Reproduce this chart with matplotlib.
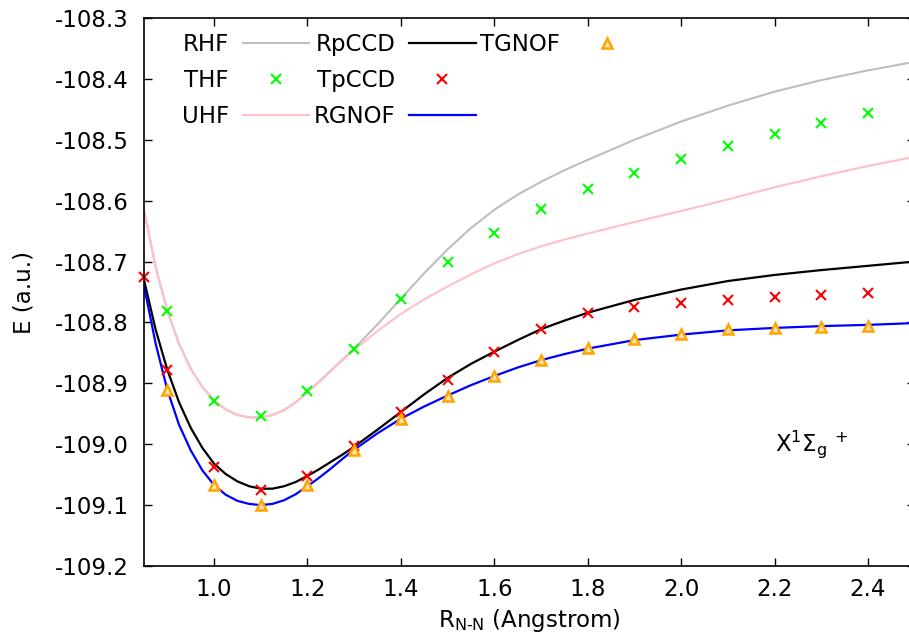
"""N2 dissociation curve, X1Sigma_g+ state."""
import matplotlib
matplotlib.use("Agg")
import matplotlib.pyplot as plt
from matplotlib.lines import Line2D
from matplotlib.ticker import FormatStrFormatter

plt.rcParams['font.family'] = ['DejaVu Sans']
plt.rcParams['mathtext.fontset'] = 'dejavusans'
plt.rcParams['axes.unicode_minus'] = False

# bond length grid for the continuous curves
r_curve = [0.85, 0.875, 0.9, 0.925, 0.95, 0.975, 1.0, 1.025, 1.05, 1.075,
           1.1, 1.125, 1.15, 1.175, 1.2, 1.225, 1.25, 1.275, 1.3,
           1.35, 1.4, 1.45, 1.5, 1.55, 1.6, 1.65, 1.7, 1.75, 1.8,
           1.9, 2.0, 2.1, 2.2, 2.3, 2.4, 2.5]

e_rhf = [-108.615, -108.709, -108.781, -108.835, -108.876, -108.906,
         -108.928, -108.943, -108.952, -108.956, -108.956, -108.952,
         -108.944, -108.931, -108.915, -108.897, -108.879, -108.861,
         -108.843,
         -108.803, -108.761, -108.719, -108.680, -108.645, -108.615,
         -108.590, -108.569, -108.550, -108.533,
         -108.500, -108.470, -108.444, -108.421, -108.402, -108.386,
         -108.372]

e_uhf = [-108.615, -108.709, -108.781, -108.835, -108.876, -108.906,
         -108.928, -108.943, -108.952, -108.956, -108.956, -108.952,
         -108.944, -108.931, -108.915, -108.898, -108.880, -108.862,
         -108.845,
         -108.814, -108.786, -108.762, -108.741, -108.721, -108.703,
         -108.688, -108.675, -108.664, -108.654,
         -108.635, -108.617, -108.598, -108.578, -108.560, -108.543,
         -108.528]

e_rpccd = [-108.730, -108.812, -108.878, -108.931, -108.973, -109.006,
           -109.032, -109.049, -109.061, -109.069, -109.073, -109.073,
           -109.069, -109.062, -109.052, -109.041, -109.029, -109.017,
           -109.004,
           -108.976, -108.947, -108.918, -108.891, -108.868, -108.848,
           -108.829, -108.811, -108.797, -108.784,
           -108.763, -108.746, -108.732, -108.722, -108.714, -108.707,
           -108.700]

e_rgnof = [-108.740, -108.835, -108.911, -108.968, -109.010, -109.043,
           -109.067, -109.083, -109.093, -109.098, -109.100, -109.098,
           -109.092, -109.082, -109.069, -109.055, -109.040, -109.024,
           -109.009,
           -108.982, -108.958, -108.938, -108.920, -108.903, -108.888,
           -108.874, -108.862, -108.852, -108.843,
           -108.829, -108.820, -108.813, -108.809, -108.806, -108.804,
           -108.801]

# point-wise results
r_thf = [0.9, 1.0, 1.1, 1.2, 1.3, 1.4, 1.5, 1.6, 1.7, 1.8, 1.9, 2.0, 2.1,
         2.2, 2.3, 2.4]
e_thf = [-108.781, -108.929, -108.954, -108.912, -108.843, -108.761,
         -108.701, -108.653, -108.614, -108.581, -108.555, -108.532,
         -108.510, -108.490, -108.472, -108.456]

r_tpccd = [0.85, 0.9, 1.0, 1.1, 1.2, 1.3, 1.4, 1.5, 1.6, 1.7, 1.8, 1.9, 2.0,
           2.1, 2.2, 2.3, 2.4]
e_tpccd = [-108.725, -108.878, -109.037, -109.075, -109.052, -109.003,
           -108.947, -108.894, -108.848, -108.811, -108.784, -108.774,
           -108.768, -108.763, -108.759, -108.755, -108.752]

r_tgnof = [0.9, 1.0, 1.1, 1.2, 1.3, 1.4, 1.5, 1.6, 1.7, 1.8, 1.9, 2.0, 2.1,
           2.2, 2.3, 2.4]
e_tgnof = [-108.911, -109.067, -109.100, -109.067, -109.009, -108.958,
           -108.921, -108.888, -108.862, -108.842, -108.828, -108.819,
           -108.811, -108.809, -108.807, -108.806]

x_ticks = [1.0, 1.2, 1.4, 1.6, 1.8, 2.0, 2.2, 2.4]
y_ticks = [-109.2, -109.1, -109.0, -108.9, -108.8, -108.7, -108.6, -108.5,
           -108.4, -108.3]

FS = 16.5

fig = plt.figure(figsize=(9.09, 6.37), dpi=100)
ax = fig.add_axes([144 / 909, 71 / 637, 770.7 / 909, 548 / 637])

h_rhf, = ax.plot(r_curve, e_rhf, color='#bebebe', lw=1.5, label='RHF')
h_uhf, = ax.plot(r_curve, e_uhf, color='#ffc0cb', lw=1.5, label='UHF')
h_rpccd, = ax.plot(r_curve, e_rpccd, color='black', lw=1.6, label='RpCCD')
h_rgnof, = ax.plot(r_curve, e_rgnof, color='#0000ff', lw=1.6, label='RGNOF')
h_thf, = ax.plot(r_thf, e_thf, ls='none', marker='x', ms=6.5, mew=1.5,
                 color='#00ff00', label='THF', clip_on=False)
h_tpccd, = ax.plot(r_tpccd, e_tpccd, ls='none', marker='x', ms=6.5, mew=1.5,
                   color='#ff0000', label='TpCCD', clip_on=False)
h_tgnof, = ax.plot(r_tgnof, e_tgnof, ls='none', marker='^', ms=6.5, mew=1.8,
                   mfc='#ffe4b0', mec='#ffa500', label='TGNOF', clip_on=False)

ax.set_xlim(0.85, 2.5)
ax.set_ylim(-109.2, -108.3)
ax.set_xticks(x_ticks)
ax.set_yticks(y_ticks)
ax.xaxis.set_major_formatter(FormatStrFormatter('%.1f'))
ax.yaxis.set_major_formatter(FormatStrFormatter('%.1f'))
ax.tick_params(direction='in', length=5.8, width=1, top=True, right=True,
               labelsize=FS)
ax.tick_params(axis='y', pad=11)
ax.tick_params(axis='x', pad=9)
for sp in ax.spines.values():
    sp.set_linewidth(1.2)

ax.set_xlabel(r'R$_{\mathregular{N\text{-}N}}$ (Angstrom)', fontsize=FS,
              labelpad=4)
ax.set_ylabel('E (a.u.)', fontsize=FS, labelpad=14)

ax.text(2.2, -109.0, r'X$^{1}\Sigma_{\mathregular{g}}$ $^{+}$', fontsize=FS,
        ha='left', va='center')

# gnuplot style key: three columns, filled column by column
blank = Line2D([], [], ls='none')
handles = [h_rhf, h_thf, h_uhf, h_rpccd, h_tpccd, h_rgnof, h_tgnof,
           blank, blank]
labels = ['RHF', 'THF', 'UHF', 'RpCCD', 'TpCCD', 'RGNOF', 'TGNOF', '', '']
ax.legend(handles, labels, ncol=3, markerfirst=False, frameon=False,
          fontsize=FS, loc='upper left', bbox_to_anchor=(0.049, 0.972),
          handlelength=2.9, handletextpad=0.6, columnspacing=0.2,
          labelspacing=0.55, borderpad=0, borderaxespad=0)

fig.savefig('out.png', dpi=100)
